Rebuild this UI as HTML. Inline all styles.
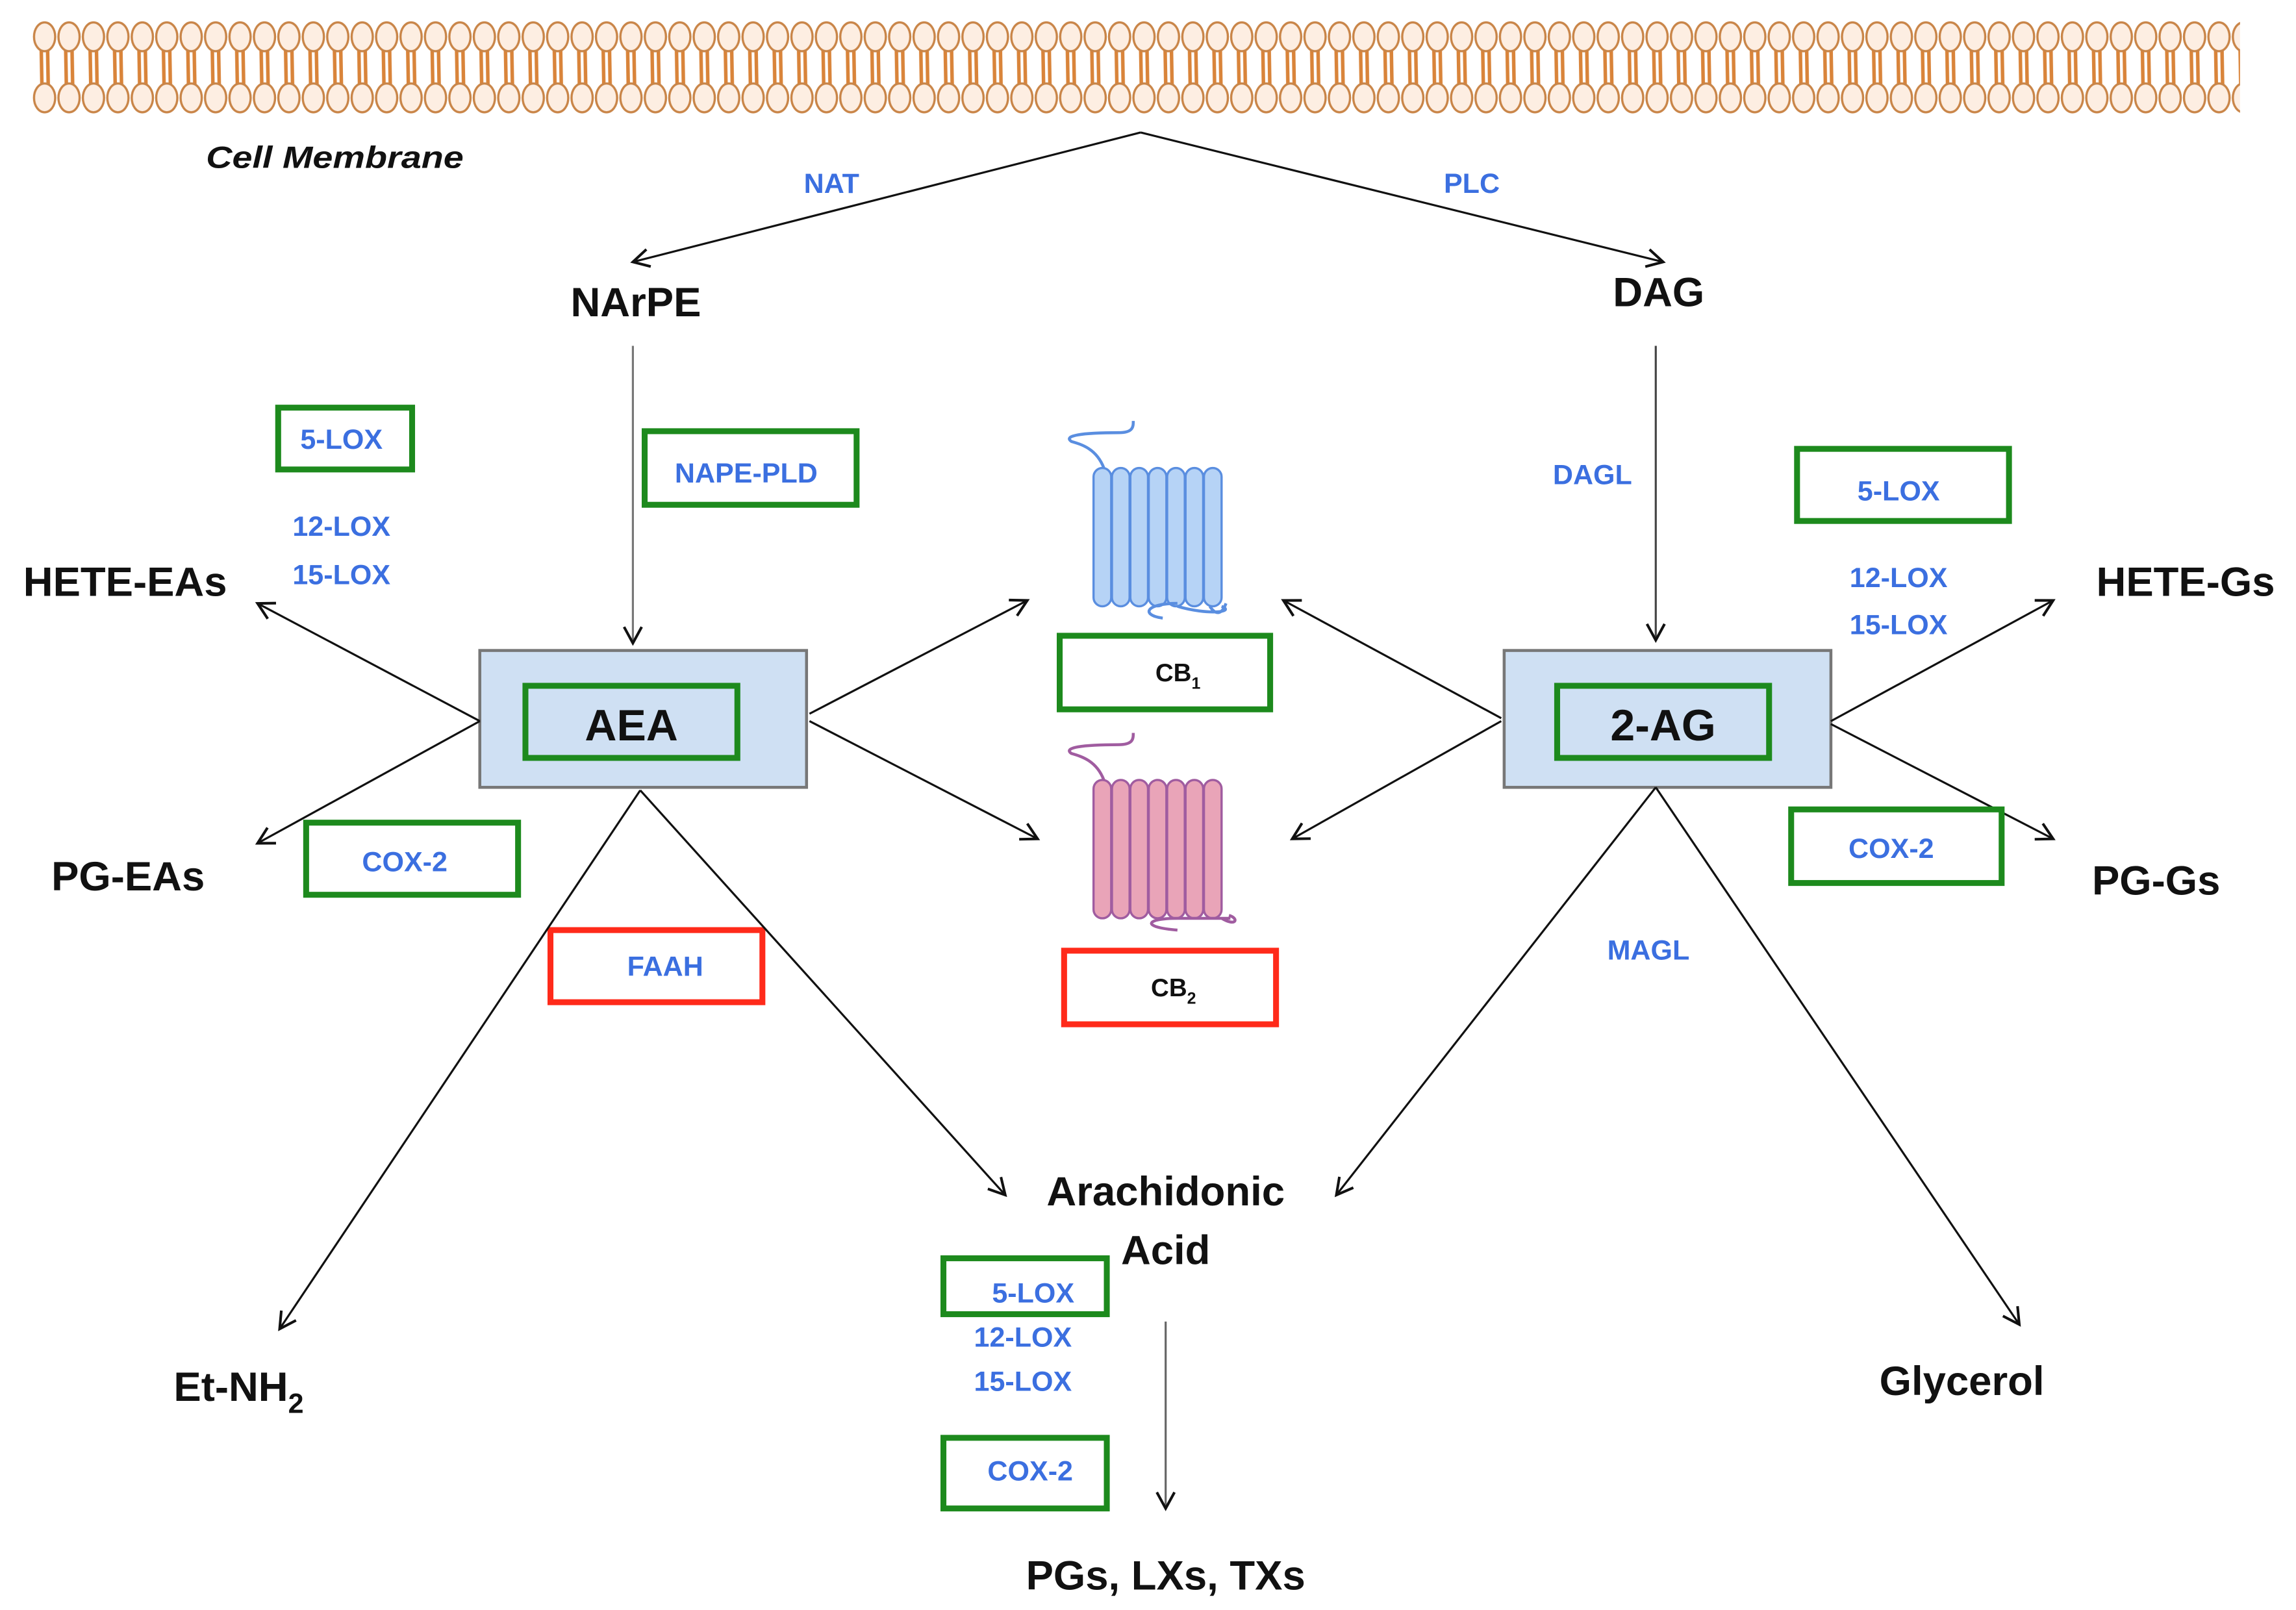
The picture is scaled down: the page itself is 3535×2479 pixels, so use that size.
<!DOCTYPE html>
<html><head><meta charset="utf-8"><style>
html,body{margin:0;padding:0;background:#fff}
svg{display:block}
.b{font-family:"Liberation Sans",sans-serif;font-weight:bold;fill:#111}
.e{font-family:"Liberation Sans",sans-serif;font-weight:bold;fill:#3b6fe0;font-size:19px}
.g{fill:#fff;stroke:#1d8a1d;stroke-width:4}
.r{fill:#fff;stroke:#ff2a1a;stroke-width:4}
.l{stroke:#111;stroke-width:1.4;fill:none;marker-end:url(#ah)}
</style></head><body>
<svg width="3535" height="2479" viewBox="0 0 1560 1094" xmlns="http://www.w3.org/2000/svg">
<defs>
<marker id="ah" markerWidth="14" markerHeight="14" refX="12" refY="7" orient="auto" markerUnits="userSpaceOnUse">
<path d="M1,1 L12,7 L1,13" fill="none" stroke="#111" stroke-width="1.8"/>
</marker>
<pattern id="mem" x="22" y="0" width="16.6" height="94" patternUnits="userSpaceOnUse">
<line x1="6" y1="32" x2="6.5" y2="60" stroke="#d9843a" stroke-width="2.4"/>
<line x1="10.3" y1="32" x2="10.8" y2="60" stroke="#d9843a" stroke-width="2.4"/>
<ellipse cx="8.3" cy="25" rx="7.2" ry="9.8" fill="#fdeee2" stroke="#c98548" stroke-width="1.5"/>
<ellipse cx="8.3" cy="66.5" rx="7.2" ry="9.8" fill="#fdeee2" stroke="#c98548" stroke-width="1.5"/>
</pattern>
<g id="rc">
<rect x="0" y="0" width="12" height="94" rx="6"/>
<rect x="12.5" y="0" width="12" height="94" rx="6"/>
<rect x="25" y="0" width="12" height="94" rx="6"/>
<rect x="37.5" y="0" width="12" height="94" rx="6"/>
<rect x="50" y="0" width="12" height="94" rx="6"/>
<rect x="62.5" y="0" width="12" height="94" rx="6"/>
<rect x="75" y="0" width="12" height="94" rx="6"/>
</g>
</defs>
<rect width="1560" height="1094" fill="#fff"/>
<rect x="22" y="10" width="1500" height="80" fill="url(#mem)"/>
<text x="140" y="114" class="b" style="font-style:italic;font-size:21px" textLength="175" lengthAdjust="spacingAndGlyphs">Cell Membrane</text>

<line x1="775" y1="90" x2="430" y2="178" class="l"/>
<line x1="775" y1="90" x2="1130" y2="178" class="l"/>
<text x="565" y="131" class="e" text-anchor="middle">NAT</text>
<text x="1000" y="131" class="e" text-anchor="middle">PLC</text>
<text x="432" y="215" class="b" text-anchor="middle" style="font-size:28px">NArPE</text>
<text x="1127" y="208" class="b" text-anchor="middle" style="font-size:28px">DAG</text>

<line x1="430" y1="235" x2="430" y2="437" class="l" style="stroke:#777"/>
<rect x="438" y="293" width="144" height="50" class="g"/>
<text x="507" y="328" class="e" text-anchor="middle">NAPE-PLD</text>
<line x1="1125" y1="235" x2="1125" y2="435" class="l" style="stroke:#444"/>
<text x="1082" y="329" class="e" text-anchor="middle">DAGL</text>

<rect x="326" y="442" width="222" height="93" fill="#cfe0f3" stroke="#777" stroke-width="2"/>
<rect x="357" y="466" width="144" height="49" fill="#cfe0f3" stroke="#1d8a1d" stroke-width="4"/>
<text x="429" y="503" class="b" text-anchor="middle" style="font-size:30px">AEA</text>
<rect x="1022" y="442" width="222" height="93" fill="#cfe0f3" stroke="#777" stroke-width="2"/>
<rect x="1058" y="466" width="144" height="49" fill="#cfe0f3" stroke="#1d8a1d" stroke-width="4"/>
<text x="1130" y="503" class="b" text-anchor="middle" style="font-size:30px">2-AG</text>

<rect x="189" y="277" width="91" height="42" class="g"/>
<text x="232" y="305" class="e" text-anchor="middle">5-LOX</text>
<text x="232" y="364" class="e" text-anchor="middle">12-LOX</text>
<text x="232" y="397" class="e" text-anchor="middle">15-LOX</text>
<text x="85" y="405" class="b" text-anchor="middle" style="font-size:28px">HETE-EAs</text>
<line x1="326" y1="490" x2="175" y2="410" class="l"/>
<text x="87" y="605" class="b" text-anchor="middle" style="font-size:28px">PG-EAs</text>
<line x1="326" y1="490" x2="175" y2="573" class="l"/>
<rect x="208" y="559" width="144" height="49" class="g"/>
<text x="275" y="592" class="e" text-anchor="middle">COX-2</text>

<line x1="550" y1="485" x2="698" y2="408" class="l"/>
<line x1="550" y1="490" x2="705" y2="570" class="l"/>
<line x1="1020" y1="488" x2="872" y2="408" class="l"/>
<line x1="1020" y1="490" x2="878" y2="570" class="l"/>

<g fill="#b6d3f6" stroke="#5a8ee0" stroke-width="1.5">
<use href="#rc" x="743" y="318"/>
</g>
<path d="M750,318 C745,305 735,302 728,300 C722,296 735,294 760,294 C770,294 770,290 770,286" fill="none" stroke="#5a8ee0" stroke-width="2"/>
<path d="M822,412 C826,418 830,418 833,410 M800,412 C820,418 840,416 830,412 M790,420 C775,418 778,410 800,410" fill="none" stroke="#5a8ee0" stroke-width="2"/>
<rect x="720" y="432" width="143" height="50" class="g"/>
<text x="785" y="463" class="b" style="font-size:17px">CB<tspan dy="5" font-size="11">1</tspan></text>

<g fill="#e9a4b8" stroke="#a05ca0" stroke-width="1.5">
<use href="#rc" x="743" y="530"/>
</g>
<path d="M750,530 C745,517 735,514 728,512 C722,508 735,506 760,506 C770,506 770,502 770,498" fill="none" stroke="#a05ca0" stroke-width="2"/>
<path d="M830,624 C840,630 842,624 835,622 M800,632 C775,630 778,624 800,624 L836,624" fill="none" stroke="#a05ca0" stroke-width="2"/>
<rect x="723" y="646" width="144" height="50" class="r"/>
<text x="782" y="677" class="b" style="font-size:17px">CB<tspan dy="5" font-size="11">2</tspan></text>

<rect x="1221" y="305" width="144" height="49" class="g"/>
<text x="1290" y="340" class="e" text-anchor="middle">5-LOX</text>
<text x="1290" y="399" class="e" text-anchor="middle">12-LOX</text>
<text x="1290" y="431" class="e" text-anchor="middle">15-LOX</text>
<text x="1485" y="405" class="b" text-anchor="middle" style="font-size:28px">HETE-Gs</text>
<line x1="1244" y1="490" x2="1395" y2="408" class="l"/>
<text x="1465" y="608" class="b" text-anchor="middle" style="font-size:28px">PG-Gs</text>
<line x1="1244" y1="492" x2="1395" y2="570" class="l"/>
<rect x="1217" y="550" width="143" height="50" class="g"/>
<text x="1285" y="583" class="e" text-anchor="middle">COX-2</text>

<rect x="374" y="632" width="144" height="49" class="r"/>
<text x="452" y="663" class="e" text-anchor="middle">FAAH</text>
<line x1="435" y1="537" x2="190" y2="903" class="l"/>
<line x1="435" y1="537" x2="683" y2="812" class="l"/>
<line x1="1125" y1="535" x2="908" y2="812" class="l"/>
<line x1="1125" y1="535" x2="1372" y2="900" class="l"/>
<text x="1120" y="652" class="e" text-anchor="middle">MAGL</text>

<text x="792" y="819" class="b" text-anchor="middle" style="font-size:28px">Arachidonic</text>
<text x="792" y="859" class="b" text-anchor="middle" style="font-size:28px">Acid</text>
<text x="118" y="952" class="b" style="font-size:28px">Et-NH<tspan dy="8" font-size="19">2</tspan></text>
<text x="1333" y="948" class="b" text-anchor="middle" style="font-size:28px">Glycerol</text>

<rect x="641" y="855" width="111" height="38" class="g"/>
<text x="702" y="885" class="e" text-anchor="middle">5-LOX</text>
<text x="695" y="915" class="e" text-anchor="middle">12-LOX</text>
<text x="695" y="945" class="e" text-anchor="middle">15-LOX</text>
<rect x="641" y="977" width="111" height="48" class="g"/>
<text x="700" y="1006" class="e" text-anchor="middle">COX-2</text>
<line x1="792" y1="898" x2="792" y2="1025" class="l" style="stroke:#666"/>
<text x="792" y="1080" class="b" text-anchor="middle" style="font-size:28px">PGs, LXs, TXs</text>
</svg>
</body></html>
